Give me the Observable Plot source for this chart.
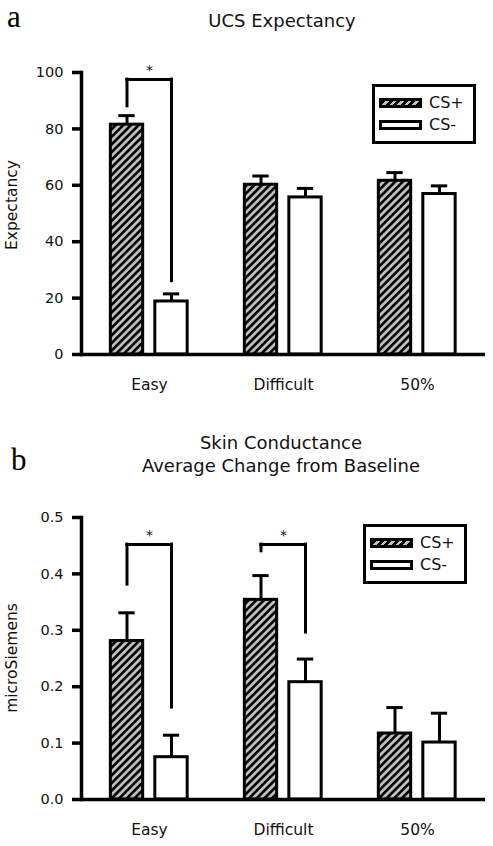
<!DOCTYPE html>
<html>
<head>
<meta charset="utf-8">
<script src="https://cdn.jsdelivr.net/npm/d3@7"></script>
<script src="https://cdn.jsdelivr.net/npm/@observablehq/plot@0.6"></script>
<style>
  body { margin: 0; background: #fff; }
  #chart { position: relative; width: 493px; height: 846px; overflow: hidden; background: #fff;
           font-family: "DejaVu Sans", sans-serif; color: #111; }
  #chart > svg { position: absolute; left: 0; }
  .abs { position: absolute; white-space: nowrap; }
  .panel-letter { font-family: "Liberation Serif", serif; font-size: 31px; line-height: 31px; color: #000; }
  .title { font-size: 18px; line-height: 22.7px; text-align: center; transform: translateX(-50%); }
  .ylabel { font-size: 15.5px; line-height: 15.5px; transform: translate(-50%, -50%) rotate(-90deg); }
  .legend-box { border: 3.5px solid #000; box-sizing: border-box; width: 104px; height: 60px; background: #fff; }
  .sw { width: 43px; height: 10px; border: 3px solid #000; box-sizing: border-box; }
  .sw.plus { background: repeating-linear-gradient(135deg, #000 0 2.5px, #bfbfbf 2.5px 5.3px); }
  .sw.minus { background: #fff; }
  .lt { font-size: 16px; line-height: 16px; }
</style>
</head>
<body>
<div id="chart"></div>
<script>
// ---------- data ----------
const categories = ["Easy", "Difficult", "50%"];
const seriesNames = ["CS+", "CS-"];

// Panel a: UCS Expectancy
const expectancyPlus = [81.5, 60.2, 61.6];
const expectancyPlusErr = [3.2, 3.1, 2.9];
const expectancyMinus = [18.8, 55.7, 56.9];
const expectancyMinusErr = [2.7, 3.2, 2.9];
const expectancyTicks = [0, 20, 40, 60, 80, 100];
const expectancySigCategory = ["Easy"];
const expectancySigTop = [97.5];
const expectancySigLeftEnd = [88];
const expectancySigRightEnd = [26];

// Panel b: Skin conductance
const conductancePlus = [0.281, 0.354, 0.117];
const conductancePlusErr = [0.050, 0.043, 0.046];
const conductanceMinus = [0.075, 0.208, 0.101];
const conductanceMinusErr = [0.039, 0.041, 0.052];
const conductanceTicks = [0, 0.1, 0.2, 0.3, 0.4, 0.5];
const conductanceSigCategory = ["Easy", "Difficult"];
const conductanceSigTop = [0.452, 0.452];
const conductanceSigLeftEnd = [0.381, 0.440];
const conductanceSigRightEnd = [0.163, 0.296];

// ---------- drawing ----------
const W = 493, ML = 81, MR = 8;
const bandHalf = (W - ML - MR) / categories.length / 2;
const offPlus = -22.5, offMinus = 22, barHalf = 16.5, capHalf = 8.5;

function makePanel(o) {
  const rowsPlus = categories.map((c, i) => ({category: c, series: seriesNames[0], value: o.plus[i], hi: o.plus[i] + o.plusErr[i]}));
  const rowsMinus = categories.map((c, i) => ({category: c, series: seriesNames[1], value: o.minus[i], hi: o.minus[i] + o.minusErr[i]}));
  const sig = o.sigCat.map((c, i) => ({category: c, top: o.sigTop[i], left: o.sigLeft[i], right: o.sigRight[i]}));
  const line = {stroke: "#000", strokeWidth: 3};
  const svg = Plot.plot({
    width: W, height: o.height,
    marginLeft: ML, marginRight: MR, marginTop: o.marginTop, marginBottom: o.marginBottom,
    style: {fontFamily: "'DejaVu Sans', sans-serif", fontSize: "14.5px", color: "#111", background: "transparent", overflow: "visible"},
    x: {domain: categories, padding: 0, label: null},
    y: {domain: [0, o.yMax], label: null},
    marks: [
      Plot.barY(rowsPlus, {x: "category", y: "value", dx: offPlus, insetLeft: bandHalf - barHalf, insetRight: bandHalf - barHalf, fill: `url(#${o.hatchId})`, ...line}),
      Plot.barY(rowsMinus, {x: "category", y: "value", dx: offMinus, insetLeft: bandHalf - barHalf, insetRight: bandHalf - barHalf, fill: "#fff", ...line}),
      Plot.ruleX(rowsPlus, {x: "category", y1: "value", y2: "hi", dx: offPlus, ...line}),
      Plot.ruleX(rowsMinus, {x: "category", y1: "value", y2: "hi", dx: offMinus, ...line}),
      Plot.tickY(rowsPlus, {x: "category", y: "hi", dx: offPlus, insetLeft: bandHalf - capHalf, insetRight: bandHalf - capHalf, ...line}),
      Plot.tickY(rowsMinus, {x: "category", y: "hi", dx: offMinus, insetLeft: bandHalf - capHalf, insetRight: bandHalf - capHalf, ...line}),
      Plot.ruleX(sig, {x: "category", y1: "left", y2: "top", dx: offPlus, strokeLinecap: "square", ...line}),
      Plot.ruleX(sig, {x: "category", y1: "right", y2: "top", dx: offMinus, strokeLinecap: "square", ...line}),
      Plot.tickY(sig, {x: "category", y: "top", insetLeft: bandHalf + offPlus, insetRight: bandHalf - offMinus, strokeLinecap: "square", ...line}),
      Plot.text(sig, {x: "category", y: "top", text: () => "*", dy: -9, fontSize: 14, fill: "#111"}),
      Plot.ruleY([0], {stroke: "#000", strokeWidth: 3.5}),
      Plot.frame({anchor: "left", stroke: "#000", strokeWidth: 3.5, strokeLinecap: "square"}),
      Plot.axisY({ticks: o.ticks, tickFormat: o.tickFormat, tickSize: 9, tickPadding: 9, stroke: "#000", strokeWidth: 3.5, fontSize: 14.5, label: null}),
      Plot.axisX({tickSize: 0, tickPadding: 24, fontSize: 15.5, label: null})
    ]
  });
  // hatch pattern
  const defs = d3.select(svg).insert("defs", ":first-child");
  const p = defs.append("pattern").attr("id", o.hatchId).attr("patternUnits", "userSpaceOnUse")
    .attr("width", 5.4).attr("height", 5.4).attr("patternTransform", "rotate(45)");
  p.append("rect").attr("width", 5.4).attr("height", 5.4).attr("fill", "#bfbfbf");
  p.append("rect").attr("width", 2.6).attr("height", 5.4).attr("fill", "#000");
  svg.style.top = o.top + "px";
  return svg;
}

const chart = document.getElementById("chart");
chart.appendChild(makePanel({
  plus: expectancyPlus, plusErr: expectancyPlusErr, minus: expectancyMinus, minusErr: expectancyMinusErr,
  ticks: expectancyTicks, yMax: 100, tickFormat: d3.format("d"),
  sigCat: expectancySigCategory, sigTop: expectancySigTop, sigLeft: expectancySigLeftEnd, sigRight: expectancySigRightEnd,
  height: 360, marginTop: 32, marginBottom: 46, top: 40, hatchId: "hatchA"
}));
chart.appendChild(makePanel({
  plus: conductancePlus, plusErr: conductancePlusErr, minus: conductanceMinus, minusErr: conductanceMinusErr,
  ticks: conductanceTicks, yMax: 0.5, tickFormat: d3.format(".1f"),
  sigCat: conductanceSigCategory, sigTop: conductanceSigTop, sigLeft: conductanceSigLeftEnd, sigRight: conductanceSigRightEnd,
  height: 366, marginTop: 37, marginBottom: 47, top: 480, hatchId: "hatchB"
}));

function addDiv(cls, text, left, top) {
  const d = document.createElement("div");
  d.className = "abs " + cls;
  if (text !== null) d.textContent = text;
  d.style.left = left + "px";
  d.style.top = top + "px";
  chart.appendChild(d);
  return d;
}
// panel letters and titles
addDiv("panel-letter", "a", 7, 1);
addDiv("panel-letter", "b", 11, 444);
addDiv("title", "UCS Expectancy", 282, 10);
const tb = addDiv("title", null, 281, 432);
tb.innerHTML = "Skin Conductance<br>Average Change from Baseline";
addDiv("ylabel", "Expectancy", 13, 205);
addDiv("ylabel", "microSiemens", 13, 658);

// legends
function legend(bx, by) {
  addDiv("legend-box", null, bx, by);
  addDiv("sw plus", null, bx + 7, by + 14);
  addDiv("sw minus", null, bx + 7, by + 36);
  addDiv("lt", seriesNames[0], bx + 57, by + 19 - 7.7);
  addDiv("lt", seriesNames[1], bx + 57, by + 41 - 7.7);
}
legend(372, 84);
legend(363, 524);
</script>
</body>
</html>
